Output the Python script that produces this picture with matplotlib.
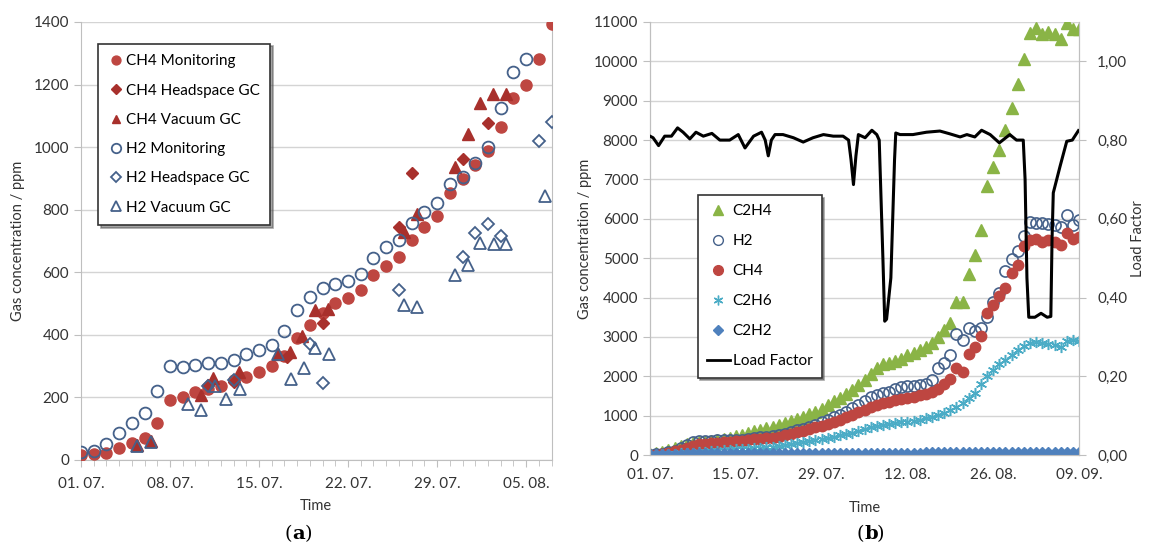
import matplotlib
matplotlib.use("Agg")
import matplotlib.pyplot as plt
from matplotlib.lines import Line2D

plt.rcParams['font.family'] = ['Lato', 'DejaVu Sans']

# ---------------- panel (a) data : day offset from 01.07.
a_tick_days = [0, 7, 14, 21, 28, 35]
a_tick_labels = ['01. 07.', '08. 07.', '15. 07.', '22. 07.', '29. 07.', '05. 08.']

ch4_mon_days = list(range(0, 38))
ch4_mon = [16, 19, 21, 37, 53, 69, 119, 192, 202, 218, 226, 237, 255, 264, 280, 300,
           333, 389, 431, 471, 501, 517, 543, 590, 621, 648, 703, 746, 781, 852, 898,
           943, 988, 1065, 1158, 1198, 1282, 1392]

h2_mon_days = list(range(0, 36))
h2_mon = [27, 29, 52, 87, 117, 151, 222, 300, 296, 303, 310, 310, 320, 338, 352, 368,
          413, 479, 520, 551, 561, 573, 594, 647, 681, 703, 758, 794, 822, 882, 903,
          950, 1001, 1126, 1241, 1281]

ch4_hs_days = [10, 12, 16.2, 19, 25, 26, 30, 32]
ch4_hs = [240, 250, 330, 439, 745, 916, 962, 1078]

ch4_vac_days = [4.4, 5.5, 9.4, 10.4, 12.4, 15.5, 16.4, 17.4, 18.4, 19.4, 25.4, 26.4,
                29.4, 30.4, 31.4, 32.4, 33.4]
ch4_vac = [48, 62, 208, 261, 280, 340, 346, 396, 479, 481, 730, 786, 938, 1041, 1140,
           1169, 1169]

h2_hs_days = [10, 12, 18, 19, 25, 30, 31, 32, 33, 36, 37]
h2_hs = [236, 255, 371, 247, 543, 650, 724, 754, 716, 1020, 1079]

h2_vac_days = [4.4, 5.5, 8.4, 9.4, 10.5, 11.4, 12.5, 15.5, 16.5, 17.5, 18.4, 19.5,
               25.4, 26.4, 29.4, 30.4, 31.4, 32.5, 33.4, 36.5]
h2_vac = [45, 58, 179, 160, 236, 194, 226, 338, 258, 293, 359, 338, 494, 490, 592, 623,
          692, 689, 689, 845]

# ---------------- panel (b) data : day offset from 01.07.
b_tick_days = [0, 14, 28, 42, 56, 70]
b_tick_labels = ['01. 07.', '15. 07.', '29. 07.', '12. 08.', '26. 08.', '09. 09.']
b_days = list(range(0, 71))

c2h4 = [20, 40, 80, 130, 180, 230, 270, 300, 320, 340, 360, 380, 410, 440, 480, 520,
        560, 600, 640, 680, 720, 770, 820, 870, 920, 970, 1030, 1100, 1180, 1280, 1380,
        1440, 1540, 1650, 1780, 1900, 2060, 2200, 2300, 2350, 2400, 2450, 2530, 2600,
        2680, 2740, 2850, 3000, 3180, 3350, 3875, 3875, 4600, 5090, 5725, 6845, 7310,
        7745, 8245, 8820, 9415, 10050, 10730, 10855, 10690, 10755, 10700, 10580, 10985,
        10830, 10830]
h2 = [5, 15, 30, 70, 110, 170, 250, 330, 350, 355, 365, 370, 375, 380, 380, 390, 410,
      430, 450, 465, 480, 505, 545, 585, 630, 660, 700, 770, 830, 900, 960, 1015, 1090,
      1190, 1270, 1380, 1470, 1520, 1570, 1610, 1680, 1720, 1750, 1760, 1780, 1810,
      1900, 2200, 2350, 2545, 3080, 2925, 3225, 3140, 3225, 3500, 3900, 4115, 4665,
      4980, 5175, 5555, 5910, 5900, 5890, 5870, 5850, 5780, 6105, 5850, 5960]
ch4 = [5, 10, 25, 55, 90, 140, 190, 240, 270, 290, 300, 310, 320, 335, 350, 365, 380,
       395, 410, 425, 440, 465, 500, 540, 580, 620, 660, 700, 740, 790, 840, 900, 960,
       1020, 1090, 1150, 1220, 1280, 1320, 1350, 1390, 1420, 1450, 1480, 1520, 1560,
       1600, 1680, 1800, 1925, 2205, 2120, 2560, 2740, 3030, 3605, 3800, 4030, 4240,
       4625, 4830, 5300, 5455, 5480, 5400, 5455, 5400, 5345, 5640, 5480, 5540]
c2h6 = [5, 10, 15, 20, 30, 40, 50, 60, 70, 85, 100, 110, 120, 135, 145, 155, 165, 175,
        185, 200, 215, 235, 260, 285, 310, 335, 360, 385, 410, 440, 470, 500, 530, 570,
        610, 660, 700, 740, 770, 790, 810, 830, 850, 870, 900, 935, 970, 1010, 1070,
        1150, 1230, 1330, 1460, 1580, 1800, 2000, 2150, 2300, 2420, 2530, 2660, 2760,
        2850, 2870, 2850, 2830, 2800, 2740, 2885, 2925, 2885]
c2h2 = [20, 25, 30, 30, 35, 35, 40, 40, 40, 45, 45, 45, 45, 45, 50, 50, 50, 50, 50, 50,
        50, 50, 50, 55, 55, 55, 55, 55, 55, 55, 55, 55, 55, 60, 60, 60, 60, 60, 60, 60,
        60, 60, 60, 60, 60, 65, 65, 65, 65, 65, 65, 65, 65, 70, 70, 70, 70, 70, 70, 70,
        75, 75, 75, 75, 75, 80, 80, 80, 80, 80, 80]

lf_days = [0, 0.5, 1.4, 2.4, 3.5, 4.5, 5.4, 6.5, 7.5, 8.7, 10.1, 11.4, 13, 14.4, 15.5,
           16.9, 18.2, 18.8, 19.3, 19.8, 20.4, 21.7, 23.4, 25, 26.6, 28.3, 29.9, 31.5,
           32.4, 32.8, 33.2, 33.6, 34, 35.1, 36.2, 37, 37.4, 38.0, 38.3, 38.6, 39.3,
           39.9, 40.1, 40.8, 42.9, 45.1, 47.3, 48.9, 50.6, 51.7, 53, 54.1, 55.5, 57,
           58.7, 59.8, 60.9, 61.2, 61.5, 61.8, 62.8, 63.8, 64.8, 65.4, 65.6, 65.8, 66.9,
           68, 68.9, 69.9]
lf = [0.81, 0.806, 0.786, 0.81, 0.81, 0.831, 0.82, 0.803, 0.82, 0.81, 0.817, 0.80,
      0.80, 0.814, 0.78, 0.81, 0.82, 0.80, 0.76, 0.80, 0.814, 0.814, 0.806, 0.795,
      0.806, 0.814, 0.81, 0.81, 0.80, 0.75, 0.687, 0.76, 0.814, 0.806, 0.825, 0.814,
      0.80, 0.50, 0.34, 0.345, 0.45, 0.75, 0.818, 0.814, 0.814, 0.82, 0.823, 0.816,
      0.808, 0.814, 0.808, 0.825, 0.814, 0.793, 0.814, 0.80, 0.80, 0.70, 0.45, 0.35,
      0.35, 0.36, 0.35, 0.352, 0.55, 0.666, 0.733, 0.797, 0.80, 0.824]

red = '#BE4641'
navy = '#45618A'
green = '#8AB446'
aqua = '#4BACC6'
blue = '#4F81BD'
grid_c = '#D4D4D4'
spine_c = '#BFBFBF'

fig = plt.figure(figsize=(11.49, 5.43), dpi=100)

# ================= (a)
ax = fig.add_axes([0.0705, 0.1529, 0.4095, 0.8066])
ax.plot(ch4_mon_days, ch4_mon, 'o', color=red, ms=8, mec=red, label='CH4 Monitoring', zorder=3)
ax.plot(ch4_hs_days, ch4_hs, 'D', color='#A8302C', ms=6.5, label='CH4 Headspace GC', zorder=3)
ax.plot(ch4_vac_days, ch4_vac, '^', color='#A8302C', ms=8, label='CH4 Vacuum GC', zorder=3)
ax.plot(h2_mon_days, h2_mon, 'o', mfc='none', mec=navy, mew=1.3, ms=8.5, label='H2 Monitoring', zorder=4)
ax.plot(h2_hs_days, h2_hs, 'D', mfc='none', mec=navy, mew=1.3, ms=6.5, label='H2 Headspace GC', zorder=4)
ax.plot(h2_vac_days, h2_vac, '^', mfc='none', mec=navy, mew=1.3, ms=8.5, label='H2 Vacuum GC', zorder=4)

ax.set_xlim(0, 37)
ax.set_ylim(0, 1400)
ax.set_yticks(range(0, 1401, 200))
ax.set_xticks(a_tick_days)
ax.set_xticklabels(a_tick_labels)
ax.set_xticks(range(0, 38), minor=True)
ax.grid(axis='y', color=grid_c, lw=1)
ax.set_axisbelow(True)
for s in ['left', 'bottom', 'right']:
    ax.spines[s].set_color(spine_c)
ax.spines['top'].set_visible(False)
ax.tick_params(axis='both', labelsize=11, color=spine_c, length=5, labelcolor='#333333')
ax.tick_params(axis='x', which='minor', length=4, color=spine_c)
ax.tick_params(axis='x', pad=7)
ax.set_xlabel('Time', fontsize=10.5, color='#333333', labelpad=6)
ax.set_ylabel('Gas concentration / ppm', fontsize=10.5, color='#333333', labelpad=6)

leg = ax.legend(loc='upper left', bbox_to_anchor=(0.02, 0.968), fontsize=11,
                frameon=True, fancybox=False, shadow=True, edgecolor='#333333',
                handletextpad=0.1, handlelength=1.0, labelspacing=1.0,
                borderpad=0.7, markerscale=0.8)
leg.get_frame().set_linewidth(1.2)

fig.text(0.2545, 0.008, '(', fontsize=14, family='DejaVu Serif', ha='right')
fig.text(0.2545, 0.008, 'a', fontsize=14, family='DejaVu Serif', weight='bold', ha='left')
fig.text(0.2650, 0.008, ')', fontsize=14, family='DejaVu Serif', ha='left')

# ================= (b)
bx = fig.add_axes([0.5657, 0.162, 0.3734, 0.7975])
bx.plot(b_days, c2h4, '^', color=green, ms=8, zorder=3)
bx.plot(b_days, h2, 'o', mfc='none', mec=navy, mew=1.2, ms=8, zorder=3)
bx.plot(b_days, ch4, 'o', color=red, ms=7.5, zorder=3)
bx.plot(b_days, c2h6, marker=(6, 2, 0), ls='none', color=aqua, mec=aqua, mew=1.1, ms=8, zorder=3)
bx.plot(b_days, c2h2, 'D', color=blue, ms=5.5, zorder=3)

bx.set_xlim(0, 70)
bx.set_ylim(0, 11000)
bx.set_yticks(range(0, 11001, 1000))
bx.set_xticks(b_tick_days)
bx.set_xticklabels(b_tick_labels)
bx.grid(axis='y', color=grid_c, lw=1)
bx.set_axisbelow(True)
for s in ['left', 'bottom', 'right']:
    bx.spines[s].set_color(spine_c)
bx.spines['top'].set_visible(False)
bx.tick_params(axis='both', labelsize=11, color=spine_c, length=5, labelcolor='#333333')
bx.tick_params(axis='x', length=0, pad=9)
bx.set_xlabel('Time', fontsize=10.5, color='#333333', labelpad=14)
bx.set_ylabel('Gas concentration / ppm', fontsize=10.5, color='#333333', labelpad=1)

bx2 = bx.twinx()
bx2.plot(lf_days, lf, '-', color='black', lw=2.2, zorder=5)
bx2.set_ylim(0, 1.1)
bx2.set_yticks([0, 0.2, 0.4, 0.6, 0.8, 1.0])
bx2.set_yticklabels(['0,00', '0,20', '0,40', '0,60', '0,80', '1,00'])
for s in ['left', 'bottom', 'right']:
    bx2.spines[s].set_color(spine_c)
bx2.spines['top'].set_visible(False)
bx2.tick_params(axis='y', labelsize=11, color=spine_c, length=5, labelcolor='#333333', pad=8)
bx2.set_ylabel('Load Factor', fontsize=10.5, color='#333333', labelpad=3)

handles = [
    Line2D([], [], ls='none', marker='^', color=green, ms=7),
    Line2D([], [], ls='none', marker='o', mfc='none', mec=navy, mew=1.0, ms=7),
    Line2D([], [], ls='none', marker='o', color=red, ms=7),
    Line2D([], [], ls='none', marker=(6, 2, 0), color=aqua, mew=1.0, ms=7),
    Line2D([], [], ls='none', marker='D', color=blue, ms=5),
    Line2D([], [], color='black', lw=2),
]
labels = ['C2H4', 'H2', 'CH4', 'C2H6', 'C2H2', 'Load Factor']
leg2 = bx2.legend(handles, labels, loc='upper left', bbox_to_anchor=(0.093, 0.618),
                  fontsize=11, frameon=True, fancybox=False, shadow=True,
                  edgecolor='#333333', handletextpad=0.2, handlelength=1.5,
                  labelspacing=1.05, borderpad=0.6, framealpha=1)
leg2.get_frame().set_linewidth(1.2)

fig.text(0.7520, 0.008, '(', fontsize=14, family='DejaVu Serif', ha='right')
fig.text(0.7520, 0.008, 'b', fontsize=14, family='DejaVu Serif', weight='bold', ha='left')
fig.text(0.7628, 0.008, ')', fontsize=14, family='DejaVu Serif', ha='left')

fig.savefig('out.png', dpi=100)
